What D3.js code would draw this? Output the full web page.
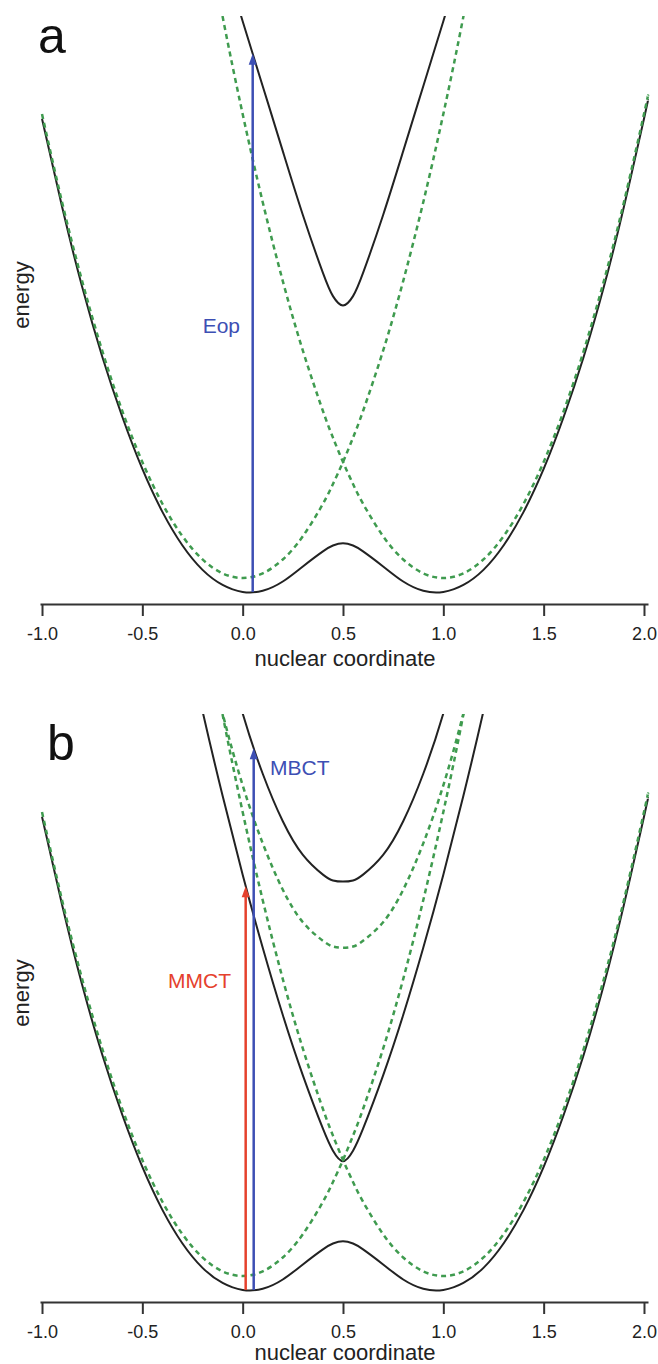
<!DOCTYPE html>
<html>
<head>
<meta charset="utf-8">
<script src="https://cdn.jsdelivr.net/npm/d3@7"></script>
<style>
  body { margin: 0; background: #fff; }
  text { font-family: "Liberation Sans", Arial, sans-serif; }
</style>
</head>
<body>
<div id="chart"></div>
<script>
// nuclear coordinate grid shared by every curve
const xGrid = [-1.0, -0.9, -0.8, -0.7, -0.6, -0.5, -0.4, -0.3, -0.2, -0.1, 0.0, 0.1, 0.2, 0.3, 0.4, 0.45, 0.5,
  0.55, 0.6, 0.7, 0.8, 0.9, 1.0, 1.1, 1.2, 1.3, 1.4, 1.5, 1.6, 1.7, 1.8, 1.9, 2.0, 2.02];

// diabatic (dashed) curves, energy in arbitrary units; null = off the top of the plot
const diabaticLeft = [4.00, 3.24, 2.56, 1.96, 1.44, 1.00, 0.64, 0.36, 0.16, 0.04, 0.00, 0.04, 0.16, 0.36, 0.64, 0.81, 1.00,
  1.21, 1.44, 1.96, 2.56, 3.24, 4.00, 4.84, 5.76, null, null, null, null, null, null, null, null, null];
const diabaticRight = [null, null, null, null, null, null, null, null, 5.76, 4.84, 4.00, 3.24, 2.56, 1.96, 1.44, 1.21, 1.00,
  0.81, 0.64, 0.36, 0.16, 0.04, 0.00, 0.04, 0.16, 0.36, 0.64, 1.00, 1.44, 1.96, 2.56, 3.24, 4.00, 4.16];
const bridgeDiabatic = [null, null, null, null, null, null, null, null, 5.57, 4.85, 4.23, 3.73, 3.33, 3.05, 2.89, 2.84, 2.83,
  2.84, 2.89, 3.05, 3.33, 3.73, 4.23, 4.85, 5.57, null, null, null, null, null, null, null, null, null];

// adiabatic (solid) curves
const groundState = [3.96, 3.20, 2.51, 1.91, 1.39, 0.94, 0.57, 0.28, 0.07, -0.06, -0.12, -0.11, -0.03, 0.10, 0.23, 0.28, 0.30,
  0.28, 0.23, 0.10, -0.03, -0.11, -0.12, -0.06, 0.07, 0.28, 0.57, 0.94, 1.39, 1.91, 2.51, 3.20, 3.96, 4.12];
const upperStateA = [null, null, null, null, null, null, null, null, null, 5.37, 4.80, 4.24, 3.68, 3.13, 2.63, 2.43, 2.35,
  2.43, 2.63, 3.13, 3.68, 4.24, 4.80, 5.37, null, null, null, null, null, null, null, null, null, null];
const middleStateB = [null, null, null, null, null, null, null, 5.66, 4.87, 4.14, 3.46, 2.83, 2.25, 1.73, 1.27, 1.08, 0.99,
  1.08, 1.27, 1.73, 2.25, 2.83, 3.46, 4.14, 4.87, 5.66, null, null, null, null, null, null, null, null];
const upperStateB = [null, null, null, null, null, null, null, null, null, 5.49, 4.85, 4.33, 3.92, 3.63, 3.46, 3.41, 3.40,
  3.41, 3.46, 3.63, 3.92, 4.33, 4.85, 5.49, null, null, null, null, null, null, null, null, null, null];

// vertical transitions: position, start energy, end energy
const arrowsA = [{ x: 0.05, from: -0.12, to: 4.52, color: '#3d4fb4' }];
const arrowsB = [
  { x: 0.015, from: -0.12, to: 3.36, color: '#e5412d' },
  { x: 0.055, from: -0.12, to: 4.55, color: '#3d4fb4' }
];

const xTicks = [-1.0, -0.5, 0.0, 0.5, 1.0, 1.5, 2.0];
const xTickLabels = ['-1.0', '-0.5', '0.0', '0.5', '1.0', '1.5', '2.0'];

const width = 658, height = 1364;
const svg = d3.select('#chart').append('svg')
  .attr('width', width)
  .attr('height', height)
  .style('background', '#fff');

const x = d3.scaleLinear().domain([-1.01, 2.02]).range([40, 648]);
const y = d3.scaleLinear().domain([-0.224, 4.845]).range([604, 16]);

const line = d3.line()
  .defined(d => d[1] != null)
  .x(d => x(d[0]))
  .y(d => y(d[1]))
  .curve(d3.curveNatural);

const pts = vals => xGrid.map((xv, i) => [xv, vals[i]]);

svg.append('clipPath').attr('id', 'plot-clip')
  .append('rect').attr('x', 0).attr('y', 16).attr('width', width).attr('height', 588);

const panels = [
  {
    letter: 'a', offset: 0, letterX: 38, letterY: 53, titleY: 666,
    solid: [groundState, upperStateA],
    dashed: [diabaticLeft, diabaticRight],
    arrows: arrowsA,
    labels: [{ text: 'Eop', x: 240, y: 333, anchor: 'end', color: '#3d4fb4' }]
  },
  {
    letter: 'b', offset: 698, letterX: 47, letterY: 62, titleY: 662,
    solid: [groundState, middleStateB, upperStateB],
    dashed: [diabaticLeft, diabaticRight, bridgeDiabatic],
    arrows: arrowsB,
    labels: [
      { text: 'MBCT', x: 270, y: 77, anchor: 'start', color: '#3d4fb4' },
      { text: 'MMCT', x: 231, y: 290, anchor: 'end', color: '#e5412d' }
    ]
  }
];

panels.forEach(p => {
  const g = svg.append('g').attr('transform', `translate(0,${p.offset})`);

  g.append('text')
    .attr('x', p.letterX).attr('y', p.letterY)
    .attr('font-size', 50)
    .attr('fill', '#111')
    .text(p.letter);

  g.append('text')
    .attr('transform', 'translate(29,295) rotate(-90)')
    .attr('text-anchor', 'middle')
    .attr('font-size', 22)
    .attr('fill', '#222')
    .text('energy');

  const plot = g.append('g').attr('clip-path', 'url(#plot-clip)');

  p.solid.forEach(vals => {
    plot.append('path')
      .datum(pts(vals))
      .attr('fill', 'none')
      .attr('stroke', '#222')
      .attr('stroke-width', 2)
      .attr('d', line);
  });

  p.dashed.forEach(vals => {
    plot.append('path')
      .datum(pts(vals))
      .attr('fill', 'none')
      .attr('stroke', '#3f9b4f')
      .attr('stroke-width', 2.5)
      .attr('stroke-dasharray', '5,4')
      .attr('d', line);
  });

  p.arrows.forEach(a => {
    g.append('line')
      .attr('x1', x(a.x)).attr('x2', x(a.x))
      .attr('y1', y(a.from)).attr('y2', y(a.to) + 6)
      .attr('stroke', a.color)
      .attr('stroke-width', 2.5);
    g.append('path')
      .attr('d', `M${x(a.x) - 4},${y(a.to) + 11} L${x(a.x)},${y(a.to)} L${x(a.x) + 4},${y(a.to) + 11} Z`)
      .attr('fill', a.color);
  });

  p.labels.forEach(l => {
    g.append('text')
      .attr('x', l.x).attr('y', l.y)
      .attr('text-anchor', l.anchor)
      .attr('font-size', 21)
      .attr('fill', l.color)
      .text(l.text);
  });

  const axis = g.append('g')
    .attr('transform', `translate(0,${y(-0.224)})`)
    .call(d3.axisBottom(x)
      .tickValues(xTicks)
      .tickFormat((d, i) => xTickLabels[i])
      .tickSize(12)
      .tickSizeOuter(0)
      .tickPadding(11));
  axis.select('.domain').attr('stroke', '#333').attr('stroke-width', 2);
  axis.selectAll('.tick line').attr('stroke', '#333').attr('stroke-width', 2);
  axis.selectAll('.tick text')
    .attr('font-size', 18)
    .attr('font-family', '"Liberation Sans", Arial, sans-serif')
    .attr('fill', '#222');

  g.append('text')
    .attr('x', 345).attr('y', p.titleY)
    .attr('text-anchor', 'middle')
    .attr('font-size', 22)
    .attr('fill', '#222')
    .text('nuclear coordinate');
});
</script>
</body>
</html>
